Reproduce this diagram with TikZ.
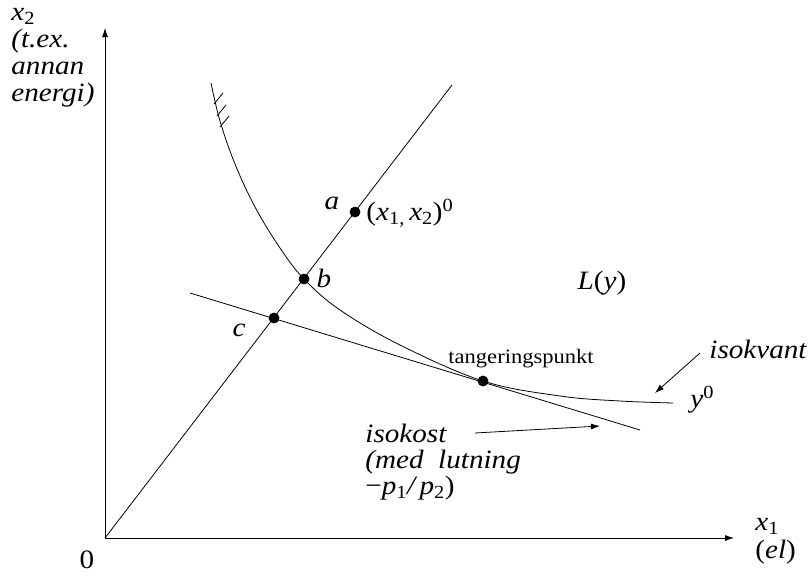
\documentclass[tikz,border=0pt]{standalone}
\usepackage{fontspec}
\setmainfont{Liberation Serif}[FakeStretch=1.1]
\usetikzlibrary{arrows.meta}
\tikzset{
  lbl/.style={font=\fontsize{26.5}{26}\selectfont\itshape, inner sep=0pt},
  arr/.style={-{Latex[length=9pt,width=6pt]}},
}
\newcommand{\vx}{\textit{x}}
\begin{document}
\begin{tikzpicture}[x=1pt, y=-1pt, line width=0.8pt]
	 \useasboundingbox (0,0) rectangle (811,581);
	 \coordinate (O) at (105,538);
	 \coordinate (Y) at (105,28);
	 \coordinate (X) at (734,538);
	 \coordinate (R) at (452,85);
	 \coordinate (a) at (355,212);
	 \coordinate (b) at (304,279);
	 \coordinate (c) at (274,318);
	 \coordinate (t) at (483,381);
	 \coordinate (K1) at (190,293);
	 \coordinate (K2) at (640,430);
	 \coordinate (kvA) at (700,353);
	 \coordinate (kvB) at (655,393);
	 \coordinate (koA) at (475,433);
	 \coordinate (koB) at (600,426);
	 \draw[arr] (O) -- (Y);
	 \draw[arr] (O) -- (X);
	 \draw (O) -- (R);
	 \draw (K1) -- (K2);
	 % isokvant
	 \draw plot[smooth, tension=0.6] coordinates {(211,83) (220,121) (235,164) (255,207) (280,248) (304,279) (340,310) (400,345) (483,381) (560,396) (620,401) (673,403)};
	 \foreach \p in {(214,104),(217,116),(220,127)} \draw \p -- ++(9,-11);
	 \foreach \x in {a,b,c,t}  \draw[fill] (\x) circle (5pt);
	 \draw[arr] (kvA) -- (kvB);
	 \draw[arr] (koA) -- (koB);
	 \node[lbl] (la) at (332,203) {a};
	 \node[lbl] (lb) at (324,278) {b};
	 \node[lbl] (lc) at (239,330) {c};
	 \node[lbl, font=\fontsize{26.5}{26}\selectfont, anchor=west] (lpt) at (366,213) {(\vx\textsubscript{1,}\,\vx\textsubscript{2})\textsuperscript{0}};
	 \node[lbl] (lL) at (602,283) {L\textup{(}y\textup{)}};
	 \node[inner sep=0pt, font=\fontsize{20.5}{22}\selectfont, anchor=west] (ltp) at (448,359) {tangeringspunkt};
	 \node[lbl, anchor=west] (lkv) at (709,349) {isokvant};
	 \node[lbl, anchor=west] (ly) at (690,400) {y\textsuperscript{\upshape 0}};
	 \node[lbl, anchor=north west, align=left] (lko) at (365,424) {isokost\\(med\ \ lutning\\\textup{−}p\textsubscript{\upshape 1}/\,p\textsubscript{\upshape 2}\textup{)}};
	 \node[lbl, anchor=north west, align=left, font=\fontsize{26.5}{27}\selectfont\itshape] (lx2) at (11,8) {x\textsubscript{\upshape 2}\\(t.ex.\\annan\\energi)};
	 \node[lbl, font=\fontsize{26.5}{26}\selectfont] (l0) at (87,560) {0};
	 \node[lbl, anchor=north west, align=left, font=\fontsize{26.5}{28}\selectfont\itshape] (lx1) at (755,518) {x\textsubscript{\upshape 1}\\\textup{(}el\textup{)}};
      \end{tikzpicture}
\end{document}
